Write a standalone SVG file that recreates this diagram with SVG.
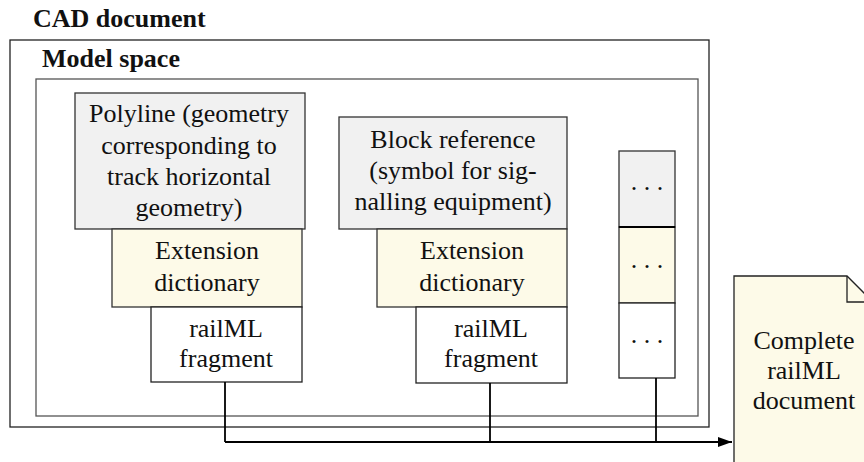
<svg xmlns="http://www.w3.org/2000/svg" width="864" height="462" viewBox="0 0 864 462" font-family="'Liberation Serif', Tinos, 'Times New Roman', Times, 'DejaVu Serif', serif">
<style>
text{font-family:'Liberation Serif',Tinos,'Times New Roman',Times,'DejaVu Serif',serif;font-size:26px;fill:#111;text-anchor:middle}
.title{font-weight:bold;text-anchor:start}
.frame{fill:none;stroke:#222;stroke-width:1.3}
.inner{fill:none;stroke:#555;stroke-width:1.3}
.grey{fill:#f1f1f1;stroke:#333;stroke-width:1.3}
.yel{fill:#fdfae8;stroke:#333;stroke-width:1.3}
.wht{fill:#fff;stroke:#222;stroke-width:1.3}
.conn{fill:none;stroke:#000;stroke-width:1.8}
</style>
<defs>
<marker id="arr" markerWidth="14" markerHeight="10" refX="14" refY="5" orient="auto" markerUnits="userSpaceOnUse">
<path d="M0,0 L14,5 L0,10 Z" fill="#000"/>
</marker>
</defs>
<rect width="864" height="462" fill="#fff"/>
<g id="cad-document">
<text class="title" x="33" y="27">CAD document</text>
<rect class="frame" x="10" y="40" width="699" height="387"/>
</g>
<g id="model-space">
<text class="title" x="42" y="67">Model space</text>
<rect class="inner" x="36" y="79" width="662" height="337"/>
</g>
<g id="polyline">
<rect class="grey" x="75" y="93" width="230" height="136"/>
<text x="189" y="122">Polyline (geometry</text>
<text x="189" y="153.5">corresponding to</text>
<text x="189" y="185">track horizontal</text>
<text x="189" y="216">geometry)</text>
</g>
<g id="ext-dict-1">
<rect class="yel" x="112" y="229" width="190" height="78"/>
<text x="207" y="259">Extension</text>
<text x="207" y="291">dictionary</text>
</g>
<g id="railml-fragment-1">
<rect class="wht" x="151" y="307" width="151" height="75"/>
<text x="226" y="337">railML</text>
<text x="226" y="367">fragment</text>
</g>
<g id="block-reference">
<rect class="grey" x="339" y="117" width="228" height="112"/>
<text x="453" y="148">Block reference</text>
<text x="453" y="179">(symbol for sig-</text>
<text x="453" y="210">nalling equipment)</text>
</g>
<g id="ext-dict-2">
<rect class="yel" x="377" y="229" width="190" height="78"/>
<text x="472" y="259">Extension</text>
<text x="472" y="291">dictionary</text>
</g>
<g id="railml-fragment-2">
<rect class="wht" x="416" y="307" width="151" height="76"/>
<text x="491" y="337">railML</text>
<text x="491" y="367">fragment</text>
</g>
<g id="more-entities">
<rect class="grey" x="619" y="151" width="56" height="76"/>
<rect class="yel" x="619" y="227" width="56" height="76"/>
<rect class="wht" x="619" y="303" width="56" height="75"/>
<line x1="619" y1="227" x2="675" y2="227" stroke="#000" stroke-width="2"/>
<text x="647" y="190">. . .</text>
<text x="647" y="268">. . .</text>
<text x="647" y="343">. . .</text>
</g>
<g id="complete-railml-document">
<path d="M734,276 L847,276 L875,304 L875,470 L734,470 Z" fill="#fdfae8" stroke="#222" stroke-width="1.3"/>
<path d="M847,276 L847,302 L875,302" fill="none" stroke="#222" stroke-width="1.3"/>
<text x="804" y="349">Complete</text>
<text x="804" y="379">railML</text>
<text x="804" y="409">document</text>
</g>
<g id="connectors">
<path class="conn" d="M225,382 L225,442"/>
<path class="conn" d="M490,383 L490,442"/>
<path class="conn" d="M656,378 L656,442"/>
<path class="conn" d="M225,442 L732,442" marker-end="url(#arr)"/>
</g>
</svg>
